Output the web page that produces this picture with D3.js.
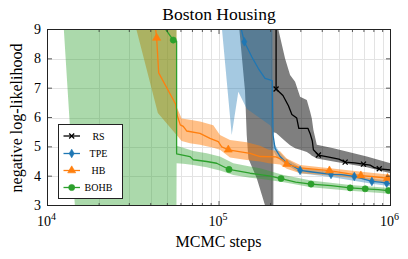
<!DOCTYPE html>
<html><head><meta charset="utf-8">
<script src="https://cdn.jsdelivr.net/npm/d3@7"></script>
<style>
body{margin:0;background:#fff}
svg{display:block}
text{font-family:"Liberation Serif","Times New Roman",serif;fill:#000}
</style>
</head><body>
<svg id="c" width="408" height="259"></svg>
<script>
// ---------- data ----------
const title = "Boston Housing";
const xLabel = "MCMC steps";
const yLabel = "negative log-likelihood";
const xTickExps = [4, 5, 6];
const yTicks = [3, 4, 5, 6, 7, 8, 9];
const seriesNames = ["RS", "TPE", "HB", "BOHB"];
const seriesColors = ["#000000", "#1f77b4", "#ff7f0e", "#2ca02c"];

// mean curves
const rsSteps = [215200, 215200, 236000, 254000, 266000, 284000, 292000, 330000, 340000, 350000, 355200, 379900, 430000, 500000, 544000, 620000, 695600, 760000, 800000, 860000, 1000000];
const rsVals  = [9.8, 6.97, 6.75, 6.4, 6.1, 5.98, 5.63, 5.63, 5.45, 5.2, 4.9, 4.72, 4.66, 4.58, 4.48, 4.45, 4.41, 4.38, 4.3, 4.25, 4.21];
const tpeSteps = [130000, 140500, 155200, 169600, 185600, 198500, 204700, 206600, 212300, 227000, 242800, 297100, 340000, 450000, 520000, 615000, 700000, 778800, 870000, 950000, 1000000];
const tpeVals  = [9.4, 8.58, 8.07, 7.67, 7.33, 7.28, 7.25, 5.4, 4.95, 4.67, 4.5, 4.2, 4.15, 4.06, 4.05, 3.99, 3.9, 3.82, 3.8, 3.76, 3.74];
const hbSteps = [42000, 43300, 44500, 55900, 57200, 59450, 61900, 64750, 77450, 88600, 99060, 103700, 113300, 151700, 173500, 215000, 235000, 248400, 297100, 440500, 520000, 671800, 800000, 960400, 1000000];
const hbVals  = [9.4, 8.71, 7.52, 6.45, 6.05, 5.75, 5.7, 5.54, 5.46, 5.29, 5.18, 5.0, 4.9, 4.78, 4.67, 4.66, 4.55, 4.41, 4.28, 4.19, 4.12, 4.02, 3.98, 3.93, 3.92];
const bohbSteps = [45200, 54100, 56600, 56600, 67700, 70800, 84770, 96960, 110900, 114400, 151700, 173500, 200000, 230000, 280000, 344000, 450000, 582000, 712000, 850000, 1000000];
const bohbVals  = [9.28, 8.64, 8.6, 4.76, 4.67, 4.56, 4.5, 4.44, 4.27, 4.23, 4.1, 4.05, 4.0, 3.92, 3.8, 3.73, 3.68, 3.6, 3.57, 3.54, 3.5];

// markers
const rsMarkSteps = [215200, 379900, 544000, 695600, 860000];
const rsMarkVals  = [6.97, 4.72, 4.48, 4.41, 4.25];
const tpeMarkSteps = [140500, 297100, 450000, 615000, 778800, 950000];
const tpeMarkVals  = [8.58, 4.2, 4.06, 3.99, 3.82, 3.76];
const hbMarkSteps = [43300, 113300, 248400, 440500, 671800, 960400];
const hbMarkVals  = [8.71, 4.9, 4.41, 4.19, 4.02, 3.93];
const bohbMarkSteps = [54100, 114400, 230000, 344000, 582000, 712000, 973000];
const bohbMarkVals  = [8.64, 4.23, 3.92, 3.73, 3.6, 3.57, 3.51];

// uncertainty bands
const rsBandSteps = [130000, 141800, 145100, 148300, 166000, 185600, 198500, 207500, 207600, 215200, 221900, 242800, 259700, 277800, 297100, 325100, 340000, 347700, 355200, 371800, 464800, 728100, 1000000];
const rsBandLo    = [9.3, 6.9, 5.4, 4.6, 3.93, 3.0, 2.5, 2.5, 5.5, 5.47, 5.4, 5.2, 5.05, 4.95, 4.9, 4.82, 4.75, 4.7, 4.67, 4.6, 4.5, 4.3, 4.1];
const rsBandHi    = [9.3, 12, 12, 12, 12, 12, 12, 12, 12, 12, 9.0, 8.01, 7.45, 7.22, 6.71, 6.6, 6.2, 5.97, 5.57, 5.07, 4.95, 4.67, 4.44];
const tpeBandSteps = [103000, 118600, 129600, 145100, 198500, 204700, 205500, 212300, 227000, 242800, 297100, 450000, 778800, 1000000];
const tpeBandLo    = [9.3, 5.4, 6.88, 6.3, 5.74, 5.6, 4.95, 4.75, 4.55, 4.42, 4.1, 3.97, 3.74, 3.66];
const tpeBandHi    = [9.3, 12, 12, 12, 12, 12, 5.3, 5.05, 4.8, 4.62, 4.3, 4.15, 3.92, 3.84];
const hbBandSteps = [32000, 44000, 56400, 56600, 60570, 67700, 77450, 92600, 101350, 115900, 145000, 173500, 195000, 227000, 248400, 297100, 444600, 680000, 1000000];
const hbBandLo    = [9.3, 6.15, 5.41, 5.4, 5.2, 5.12, 5.07, 4.97, 4.9, 4.64, 4.55, 4.5, 4.44, 4.4, 4.25, 4.1, 4.02, 3.9, 3.76];
const hbBandHi    = [9.3, 12, 12, 6.37, 5.97, 5.92, 5.86, 5.74, 5.4, 5.23, 5.16, 5.04, 4.9, 4.85, 4.6, 4.38, 4.27, 4.15, 4.05];
const bohbBandSteps = [12000, 14800, 56400, 56600, 61900, 70800, 84770, 96960, 101350, 121200, 151700, 173500, 234200, 344000, 582000, 1000000];
const bohbBandLo    = [10.5, 2, 2, 4.44, 4.42, 4.38, 4.3, 4.22, 4.19, 4.04, 3.95, 3.91, 3.8, 3.62, 3.5, 3.4];
const bohbBandHi    = [10.5, 15, 15, 5.04, 4.97, 4.86, 4.78, 4.7, 4.67, 4.44, 4.33, 4.27, 4.05, 3.85, 3.7, 3.6];

// ---------- build ----------
const zip2 = (s, v) => s.map((d, i) => ({s: d, v: v[i]}));
const zip3 = (s, lo, hi) => s.map((d, i) => ({s: d, lo: lo[i], hi: hi[i]}));
const series = [
  {name: "RS",   color: seriesColors[0], line: zip2(rsSteps, rsVals),   marks: zip2(rsMarkSteps, rsMarkVals),   band: zip3(rsBandSteps, rsBandLo, rsBandHi),   sym: d3.symbolTimes, size: 18, bandOp: 0.5},
  {name: "TPE",  color: seriesColors[1], line: zip2(tpeSteps, tpeVals), marks: zip2(tpeMarkSteps, tpeMarkVals), band: zip3(tpeBandSteps, tpeBandLo, tpeBandHi), sym: d3.symbolDiamond, size: 22, bandOp: 0.4},
  {name: "HB",   color: seriesColors[2], line: zip2(hbSteps, hbVals),   marks: zip2(hbMarkSteps, hbMarkVals),   band: zip3(hbBandSteps, hbBandLo, hbBandHi),   sym: d3.symbolTriangle, size: 28, bandOp: 0.5},
  {name: "BOHB", color: seriesColors[3], line: zip2(bohbSteps, bohbVals), marks: zip2(bohbMarkSteps, bohbMarkVals), band: zip3(bohbBandSteps, bohbBandLo, bohbBandHi), sym: d3.symbolCircle, size: 30, bandOp: 0.4}
];

const svg = d3.select("#c");
const L = 47.5, R = 390.5, T = 29.5, B = 205.5;
const x = d3.scaleLog().domain([1e4, 1e6]).range([L, R]);
const y = d3.scaleLinear().domain([3, 9]).range([B, T]);

svg.append("defs").append("clipPath").attr("id", "clip")
  .append("rect").attr("x", L).attr("y", T).attr("width", R - L).attr("height", B - T);

// grid
const minorX = [];
[1e4, 1e5].forEach(dec => { for (let m = 2; m <= 9; m++) minorX.push(dec * m); });
const grid = svg.append("g");
grid.selectAll(".gx").data(minorX.concat([1e5])).enter().append("line")
  .attr("x1", d => Math.round(x(d)) + 0.5).attr("x2", d => Math.round(x(d)) + 0.5)
  .attr("y1", T).attr("y2", B).attr("stroke", "#e3e3e3").attr("stroke-width", 1);
grid.selectAll(".gy").data(yTicks.slice(1, -1)).enter().append("line")
  .attr("y1", d => Math.round(y(d)) + 0.5).attr("y2", d => Math.round(y(d)) + 0.5)
  .attr("x1", L).attr("x2", R).attr("stroke", "#e3e3e3").attr("stroke-width", 1);

// bands
const area = d3.area().x(d => x(d.s)).y0(d => y(d.lo)).y1(d => y(d.hi));
const plot = svg.append("g").attr("clip-path", "url(#clip)");
series.forEach(s => {
  plot.append("path").datum(s.band).attr("d", area)
    .attr("fill", s.color).attr("fill-opacity", s.bandOp).attr("stroke", "none");
});
// lines
const line = d3.line().x(d => x(d.s)).y(d => y(d.v));
series.forEach(s => {
  plot.append("path").datum(s.line).attr("d", line)
    .attr("fill", "none").attr("stroke", s.color).attr("stroke-width", 1.3).attr("stroke-linejoin", "round");
});
series.forEach(s => {
  plot.selectAll(null).data(s.marks).enter().append("path")
    .attr("transform", d => `translate(${x(d.s)},${y(d.v)})`)
    .attr("d", d3.symbol().type(s.sym).size(s.size))
    .attr("fill", s.color).attr("stroke", s.color).attr("stroke-width", s.name === "RS" ? 1.3 : 0.6);
});

// ticks (inside, all sides)
const tk = svg.append("g").attr("stroke", "#333").attr("stroke-width", 0.8);
minorX.forEach(v => {
  const px = x(v);
  tk.append("line").attr("x1", px).attr("x2", px).attr("y1", B).attr("y2", B - 2.5);
  tk.append("line").attr("x1", px).attr("x2", px).attr("y1", T).attr("y2", T + 2.5);
});
xTickExps.forEach(e => {
  const px = x(Math.pow(10, e));
  tk.append("line").attr("x1", px).attr("x2", px).attr("y1", B).attr("y2", B - 4.5);
  tk.append("line").attr("x1", px).attr("x2", px).attr("y1", T).attr("y2", T + 4.5);
});
yTicks.forEach(v => {
  const py = y(v);
  tk.append("line").attr("x1", L).attr("x2", L + 4.5).attr("y1", py).attr("y2", py);
  tk.append("line").attr("x1", R).attr("x2", R - 4.5).attr("y1", py).attr("y2", py);
});

// frame
svg.append("rect").attr("x", L).attr("y", T).attr("width", R - L).attr("height", B - T)
  .attr("fill", "none").attr("stroke", "#222").attr("stroke-width", 1);

// tick labels
xTickExps.forEach(e => {
  const t = svg.append("text").attr("x", x(Math.pow(10, e)) - 1).attr("y", 226)
    .attr("text-anchor", "middle").style("font-size", "14px");
  t.append("tspan").text("10");
  t.append("tspan").attr("dy", -6).style("font-size", "10px").text(String(e));
});
yTicks.forEach(v => {
  svg.append("text").attr("x", 41).attr("y", y(v) + 4.5).attr("text-anchor", "end")
    .style("font-size", "14px").text(String(v));
});

// titles
svg.append("text").attr("x", 219).attr("y", 20).attr("text-anchor", "middle")
  .style("font-size", "17.5px").text(title);
svg.append("text").attr("x", 218.5).attr("y", 247).attr("text-anchor", "middle")
  .style("font-size", "16px").text(xLabel);
svg.append("text").attr("transform", "translate(22,118) rotate(-90)").attr("text-anchor", "middle")
  .style("font-size", "16px").text(yLabel);

// legend
const lg = svg.append("g");
lg.append("rect").attr("x", 58.5).attr("y", 124.5).attr("width", 64).attr("height", 74)
  .attr("fill", "#fff").attr("stroke", "#222").attr("stroke-width", 1);
const legY = [136, 153.5, 170.5, 187.5];
series.forEach((s, i) => {
  const yy = legY[i];
  lg.append("line").attr("x1", 63.5).attr("x2", 80).attr("y1", yy).attr("y2", yy)
    .attr("stroke", s.color).attr("stroke-width", 1.3);
  lg.append("path").attr("transform", `translate(71.7,${yy})`)
    .attr("d", d3.symbol().type(s.sym).size(s.size))
    .attr("fill", s.color).attr("stroke", s.color).attr("stroke-width", s.name === "RS" ? 1.3 : 0.6);
  lg.append("text").attr("x", 98.5).attr("y", yy + 3.5).attr("text-anchor", "middle")
    .style("font-size", "10px").text(seriesNames[i]);
});
</script>
</body></html>
